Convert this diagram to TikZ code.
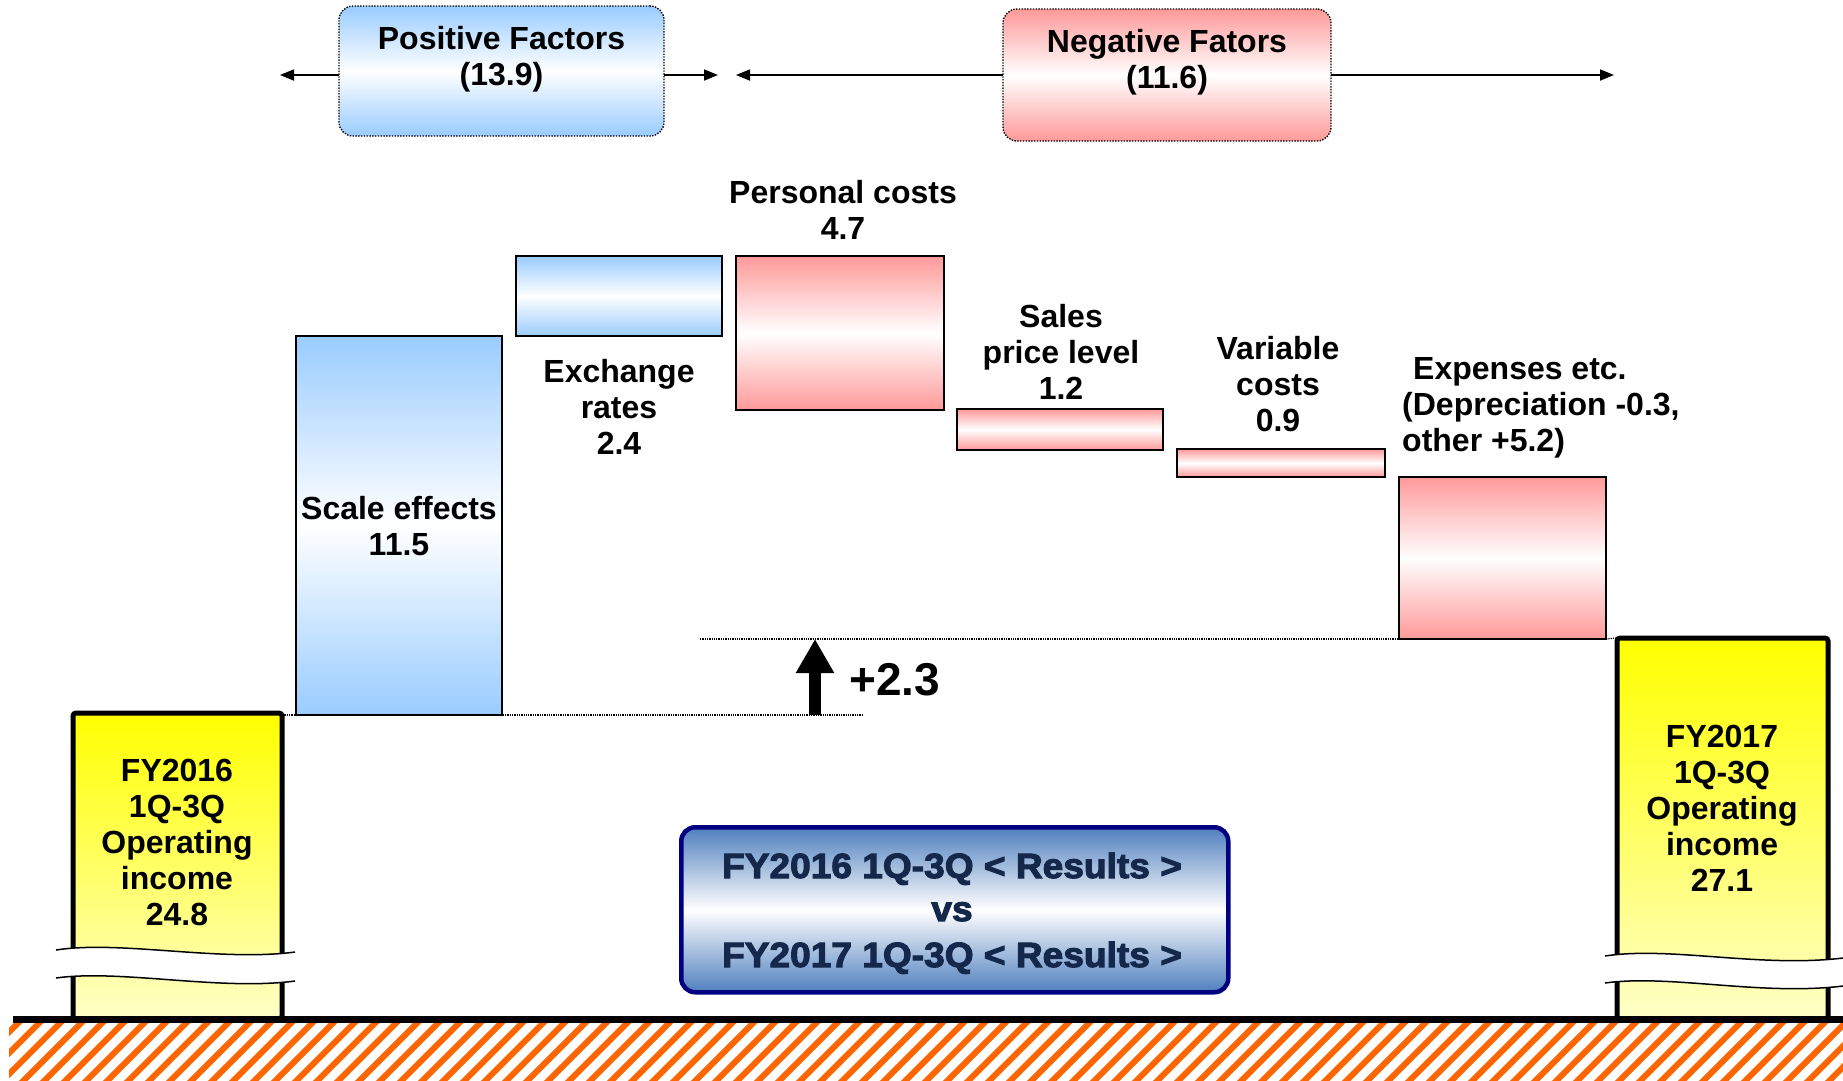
\documentclass[tikz,border=0pt]{standalone}
\usepackage{fontspec}
\setmainfont{Liberation Sans}
\newfontfamily\heavyfont[FakeBold=3,FakeStretch=1.06]{Liberation Sans}
\usetikzlibrary{arrows.meta}
\definecolor{pblue}{HTML}{99CCFF}
\definecolor{pred}{HTML}{FF9999}
\definecolor{fyyel}{HTML}{FFFF00}
\definecolor{fypale}{HTML}{FFFFC8}
\definecolor{resblue}{HTML}{4F7FBE}
\definecolor{resnavy}{HTML}{000080}
\definecolor{restext}{HTML}{14284B}
\definecolor{hatchc}{HTML}{FF6600}
\begin{document}
\begin{tikzpicture}[x=1pt,y=-1pt,
  lbl/.style={font=\fontsize{32}{36}\selectfont\bfseries, align=center, inner sep=0pt},
  bar/.style={draw=black, line width=1.6pt, anchor=north west, inner sep=0pt, outer sep=0pt},
  posbar/.style={bar, top color=pblue, bottom color=pblue, middle color=white},
  negbar/.style={bar, top color=pred, bottom color=pred, middle color=white},
  factor/.style={draw=black, dash pattern=on 1.4pt off 1.4pt, line width=1.4pt, rounded corners=14pt, anchor=north west, inner sep=0pt, outer sep=0pt},
  harrow/.style={line width=1.8pt, -{Triangle[length=14pt,width=11pt]}},
  guide/.style={densely dotted, line width=1.3pt},
  fybox/.style={draw=black, line width=5pt, rounded corners=3pt, anchor=north west, inner sep=0pt, outer sep=0pt, top color=fyyel, bottom color=fypale},
  restxt/.style={font=\fontsize{35}{40}\heavyfont\bfseries, text=restext, anchor=base, inner sep=0pt},
  brk/.style={line width=1.5pt},
]
\useasboundingbox (0,0) rectangle (1843,1080);

% hatch ground
\begin{scope}
\clip (9,1023) rectangle (1843,1080);
\foreach \i in {0,...,92} \draw[hatchc, line width=6pt] ({\i*21-63},1083) -- ({\i*21},1020);
\end{scope}

% factor headers
\node[factor, top color=pblue, bottom color=pblue, middle color=white, minimum width=325pt, minimum height=130pt] (pos) at (339,6) {};
\node[factor, top color=pred, bottom color=pred, middle color=white, minimum width=328pt, minimum height=132pt] (neg) at (1003,9) {};
\node[lbl] (posl) at (501.5,59) {Positive Factors\\(13.9)};
\node[lbl] (negl) at (1167,62) {Negative Fators\\(11.6)};
\coordinate (pl) at (280,75);
\coordinate (pr) at (718,75);
\coordinate (nl) at (736,75);
\coordinate (nr) at (1614,75);
\draw[harrow] (pos.west |- pl) -- (pl);
\draw[harrow] (pos.east |- pr) -- (pr);
\draw[harrow] (neg.west |- nl) -- (nl);
\draw[harrow] (neg.east |- nr) -- (nr);

% FY boxes
\node[fybox, minimum width=209pt, minimum height=306pt] (fy16) at (73,713) {};
\node[fybox, minimum width=211pt, minimum height=381pt] (fy17) at (1617,638) {};
\node[lbl] (fy16l) at (177,842) {FY2016\\1Q-3Q\\Operating\\income\\24.8};
\node[lbl] (fy17l) at (1722,808) {FY2017\\1Q-3Q\\Operating\\income\\27.1};

% breaks
\fill[white] (56,950) .. controls (120,940) and (220,962) .. (295,952) -- (295,981) .. controls (220,991) and (120,969) .. (56,978) -- cycle;
\draw[brk] (56,950) .. controls (120,940) and (220,962) .. (295,952);
\draw[brk] (56,978) .. controls (120,969) and (220,991) .. (295,981);
\fill[white] (1605,956) .. controls (1670,946) and (1760,968) .. (1843,958) -- (1843,986) .. controls (1760,996) and (1670,974) .. (1605,983) -- cycle;
\draw[brk] (1605,956) .. controls (1670,946) and (1760,968) .. (1843,958);
\draw[brk] (1605,983) .. controls (1670,974) and (1760,996) .. (1843,986);

% ground line
\draw[line width=7pt] (13,1019) -- (1843,1019);

% bars
\node[posbar, minimum width=206pt, minimum height=379pt] (scale) at (296,336) {};
\node[posbar, minimum width=206pt, minimum height=80pt] (exch) at (516,256) {};
\node[negbar, minimum width=208pt, minimum height=154pt] (pers) at (736,256) {};
\node[negbar, minimum width=206pt, minimum height=41pt] (sales) at (957,409) {};
\node[negbar, minimum width=208pt, minimum height=28pt] (var) at (1177,449) {};
\node[negbar, minimum width=207pt, minimum height=162pt] (exp) at (1399,477) {};

% bar labels
\node[lbl] (scalel) at (399,526) {Scale effects\\11.5};
\node[lbl] (exchl) at (619,407) {Exchange\\rates\\2.4};
\node[lbl] (persl) at (843,210) {Personal costs\\4.7};
\node[lbl] (salesl) at (1061,352) {Sales\\price level\\1.2};
\node[lbl] (varl) at (1278,384) {Variable\\costs\\0.9};
\node[lbl, align=left, anchor=west] (expl) at (1402,408) {\hspace*{11pt}Expenses etc.\\(Depreciation -0.3,\\other +5.2)};

% guide lines
\coordinate (d1) at (862,715);
\coordinate (d2) at (700,639);
\draw[guide] (fy16.east |- scale.south) -- (d1);
\draw[guide] (d2) -- (exp.south west);
\draw[guide] (exp.south east) -- (fy17.north west);

% up arrow
\coordinate (ua) at (815,715);
\coordinate (ub) at (815,639);
\draw[line width=12pt, -{Triangle[length=34pt,width=36pt]}] (ua) -- (ub);
\node[font=\fontsize{46}{50}\selectfont\bfseries, anchor=west, inner sep=0pt] (delta) at (849,680) {+2.3};

% results box
\node[draw=resnavy, line width=4.5pt, rounded corners=14pt, anchor=north west, inner sep=0pt, top color=resblue, bottom color=resblue, middle color=white, minimum width=547pt, minimum height=165pt] (res) at (679,825) {};
\node[restxt] (r1) at (952,878) {FY2016 1Q-3Q < Results >};
\node[restxt] (r2) at (952,921) {vs};
\node[restxt] (r3) at (952,967) {FY2017 1Q-3Q < Results >};
\end{tikzpicture}
\end{document}
